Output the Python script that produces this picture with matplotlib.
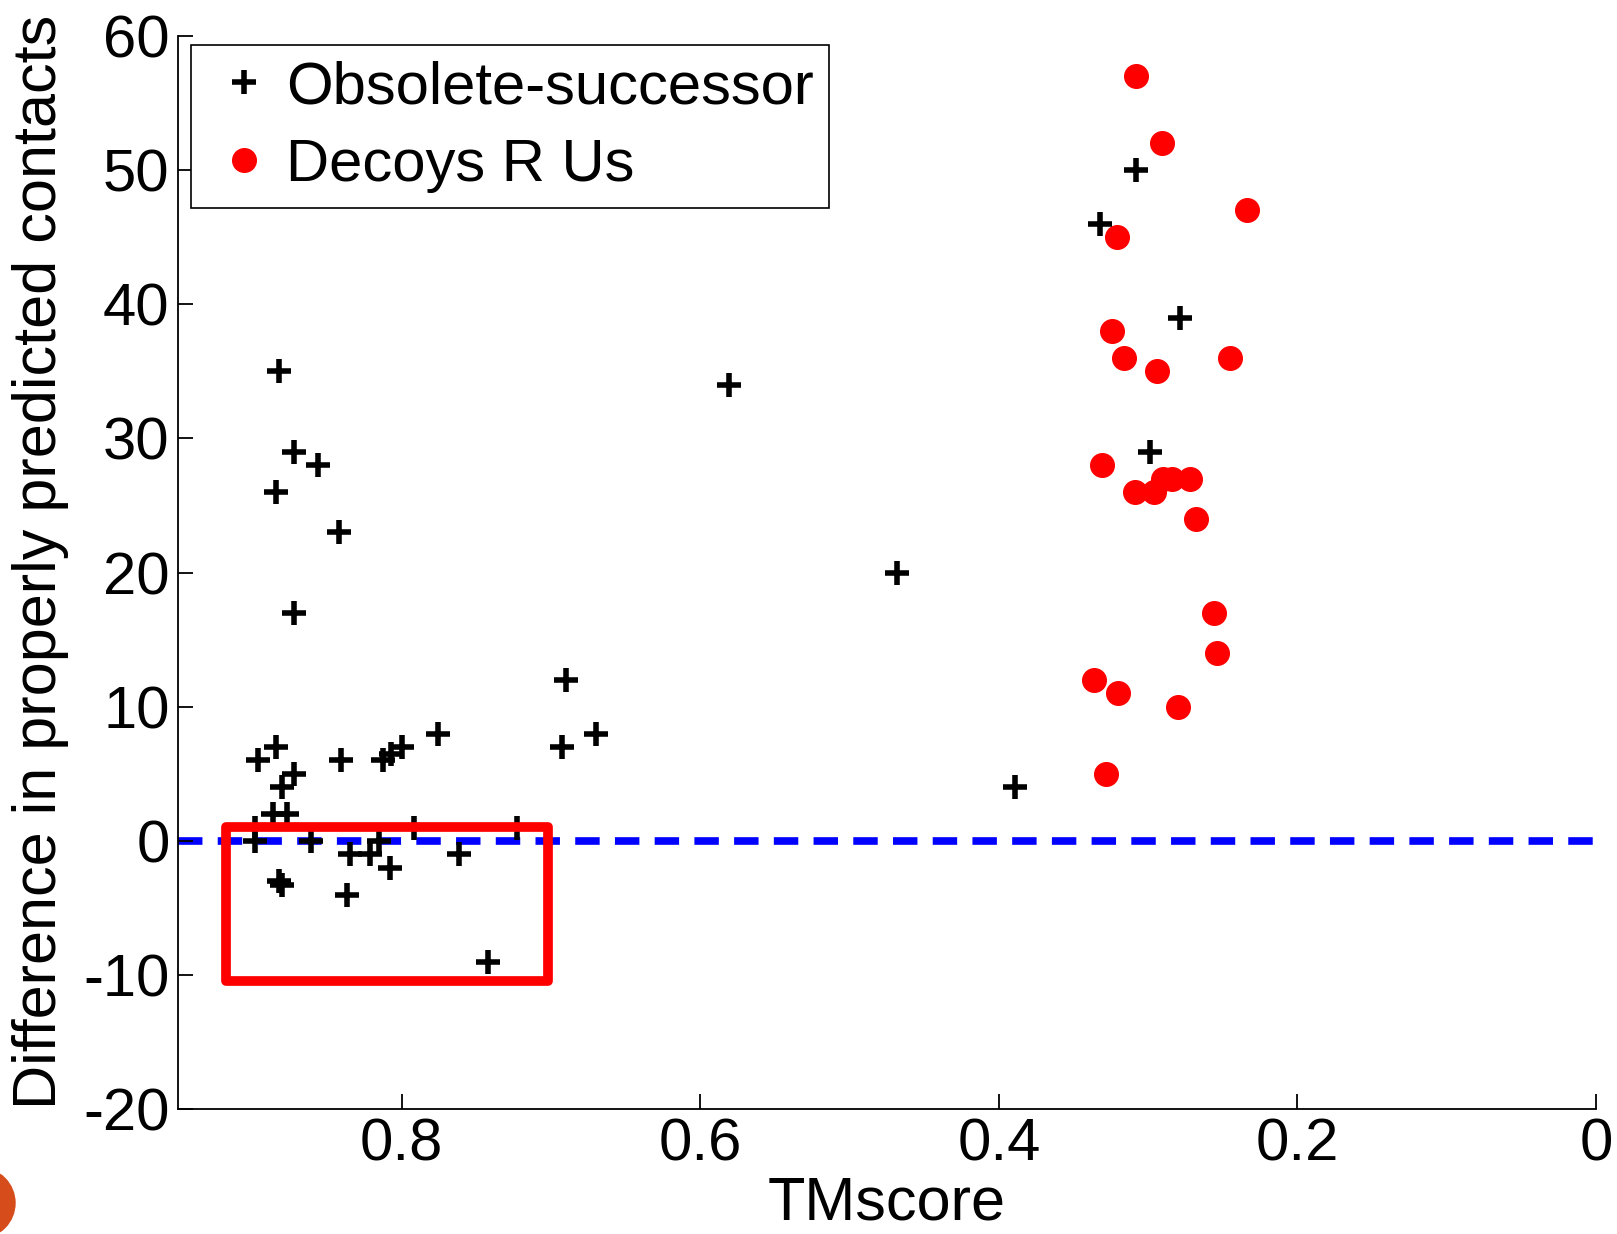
import matplotlib
matplotlib.use("Agg")
import matplotlib.pyplot as plt
from matplotlib.patches import Rectangle, Ellipse

plt.rcParams['font.family'] = ['Liberation Sans', 'DejaVu Sans']
plt.rcParams['axes.unicode_minus'] = False

# Obsolete-successor (black crosses)
obs_tm = [0.690, 0.670, 0.693, 0.776, 0.884, 0.896, 0.841, 0.8125, 0.807, 0.800,
          0.872, 0.880, 0.886, 0.877, 0.898, 0.898, 0.861, 0.792, 0.723, 0.835,
          0.821, 0.815, 0.808, 0.762, 0.882, 0.880, 0.837, 0.742, 0.882, 0.872,
          0.856, 0.884, 0.842, 0.872, 0.581, 0.468, 0.389, 0.308, 0.332, 0.279,
          0.299]
obs_diff = [12, 8, 7, 8, 7, 6, 6, 6, 6.5, 7,
            5, 4, 2, 2, 1, 0, 0, 1, 1, -1,
            -1, 0, -2, -1, -3, -3.3, -4, -9, 35, 29,
            28, 26, 23, 17, 34, 20, 4, 50, 46, 39,
            29]

# Decoys R Us (red dots)
dec_tm = [0.308, 0.291, 0.234, 0.321, 0.324, 0.316, 0.294, 0.245, 0.331, 0.309,
          0.296, 0.290, 0.284, 0.272, 0.268, 0.256, 0.254, 0.336, 0.320, 0.280,
          0.328]
dec_diff = [57, 52, 47, 45, 38, 36, 35, 36, 28, 26,
            26, 27, 27, 27, 24, 17, 14, 12, 11, 10,
            5]

fig = plt.figure(figsize=(16.17, 12.34), dpi=100)
ax = fig.add_axes([0.110, 0.101, 0.877, 0.870])

ax.axhline(0, color='#0000ff', lw=5.5, dashes=(3.2, 2.0), zorder=1)
ax.plot(obs_tm, obs_diff, '+', color='black', ms=17, mew=4,
        label='Obsolete-successor', zorder=3)
ax.plot(dec_tm, dec_diff, 'o', color='red', mec='red', ms=17,
        label='Decoys R Us', zorder=2)

# highlight box
ax.add_patch(Rectangle((0.702, -10.4), 0.216, 11.44, fill=False,
                       edgecolor='red', lw=7, joinstyle='round',
                       clip_on=False, zorder=4))

ax.set_xlim(0.95, 0)
ax.set_ylim(-20, 60)
ax.set_xticks([0.8, 0.6, 0.4, 0.2, 0])
ax.set_xticklabels(['0.8', '0.6', '0.4', '0.2', '0'])
ax.set_yticks(range(-20, 61, 10))

for s in ['top', 'right']:
    ax.spines[s].set_visible(False)
for s in ['left', 'bottom']:
    ax.spines[s].set_linewidth(1.3)
ax.tick_params(direction='in', length=11, width=1.3, labelsize=43, pad=6)

ax.set_xlabel('TMscore', fontsize=44)
ax.set_ylabel('Difference in properly predicted contacts', fontsize=44)
ax.xaxis.set_label_coords(0.5, -0.062)
ax.yaxis.set_label_coords(-0.077, 0.51)

leg = ax.legend(loc='upper left', bbox_to_anchor=(0.009, 0.991),
                borderaxespad=0, fontsize=43, fancybox=False, framealpha=1,
                edgecolor='black', handletextpad=0.05, handlelength=1.3,
                borderpad=0.25, labelspacing=0.38)
leg.get_frame().set_linewidth(1.2)

# slide decoration
fig.patches.append(Ellipse((-20 / 1617, 1 - 1203 / 1234), 70 / 1617, 70 / 1234,
                           transform=fig.transFigure, color='#d64c1b'))

fig.savefig('out.png', dpi=100)
